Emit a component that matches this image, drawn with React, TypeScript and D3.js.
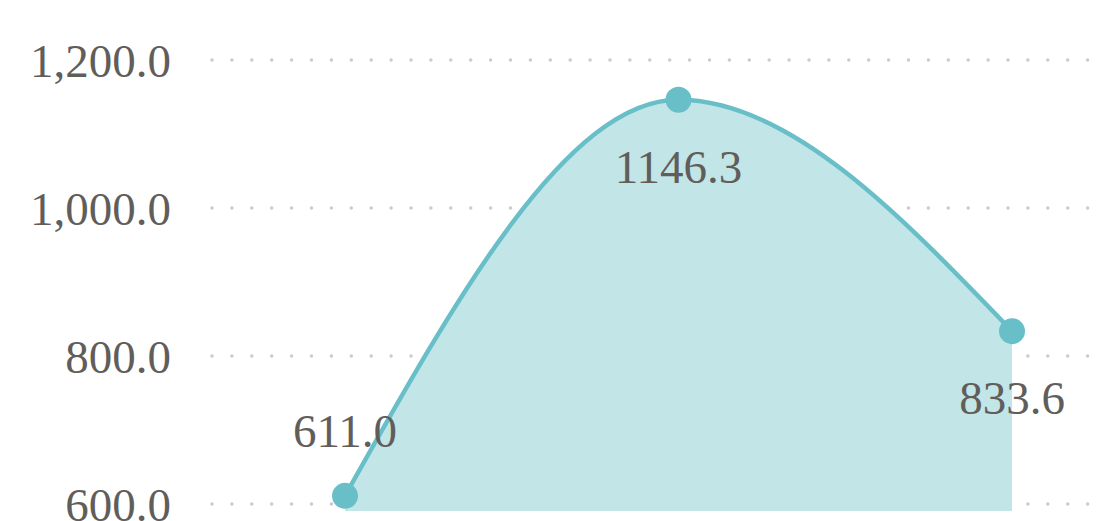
import React from 'react';
import * as d3 from 'd3';

const categories = ['A', 'B', 'C'];
const values = [611.0, 1146.3, 833.6];
const yTicks = [600, 800, 1000, 1200];

const W = 1102;
const H = 521;

const App = () => {
  const x = d3.scalePoint<string>().domain(categories).range([345, 1012]);
  const y = d3.scaleLinear().domain([600, 1200]).range([504, 60]);
  const bottom = 511;

  const pts = values.map((v, i) => [x(categories[i]) as number, y(v)] as [number, number]);
  const line = d3.line().curve(d3.curveMonotoneX)(pts) || '';
  const area = d3.area().x(d => d[0]).y0(bottom).y1(d => d[1]).curve(d3.curveMonotoneX)(pts) || '';
  const fmt = d3.format(',.1f');

  return (
    <svg width={W} height={H} style={{ position: 'absolute', left: 0, top: 0 }}
      fontFamily='"Liberation Serif", "Times New Roman", serif'>
      <rect width={W} height={H} fill="#fff" />
      {yTicks.map(t => (
        <g key={t}>
          <line x1={212} x2={1095} y1={y(t)} y2={y(t)} stroke="#cbcbcb" strokeWidth={3.5}
            strokeLinecap="round" strokeDasharray="0 19.9" />
          <text x={171} y={y(t)} dy="0.36em" textAnchor="end" fontSize={47} fill="#615d5a">{fmt(t)}</text>
        </g>
      ))}
      <path d={area} fill="#c2e5e8" />
      <path d={line} fill="none" stroke="#69bfc8" strokeWidth={4.5} />
      {pts.map((p, i) => (
        <circle key={i} cx={p[0]} cy={p[1]} r={13} fill="#69bfc8" />
      ))}
      {pts.map((p, i) => (
        <text key={'l' + i} x={p[0]} y={i === 0 ? p[1] - 49 : p[1] + 83} textAnchor="middle"
          fontSize={47} fill="#615d5a">{values[i].toFixed(1)}</text>
      ))}
    </svg>
  );
};

export default App;
